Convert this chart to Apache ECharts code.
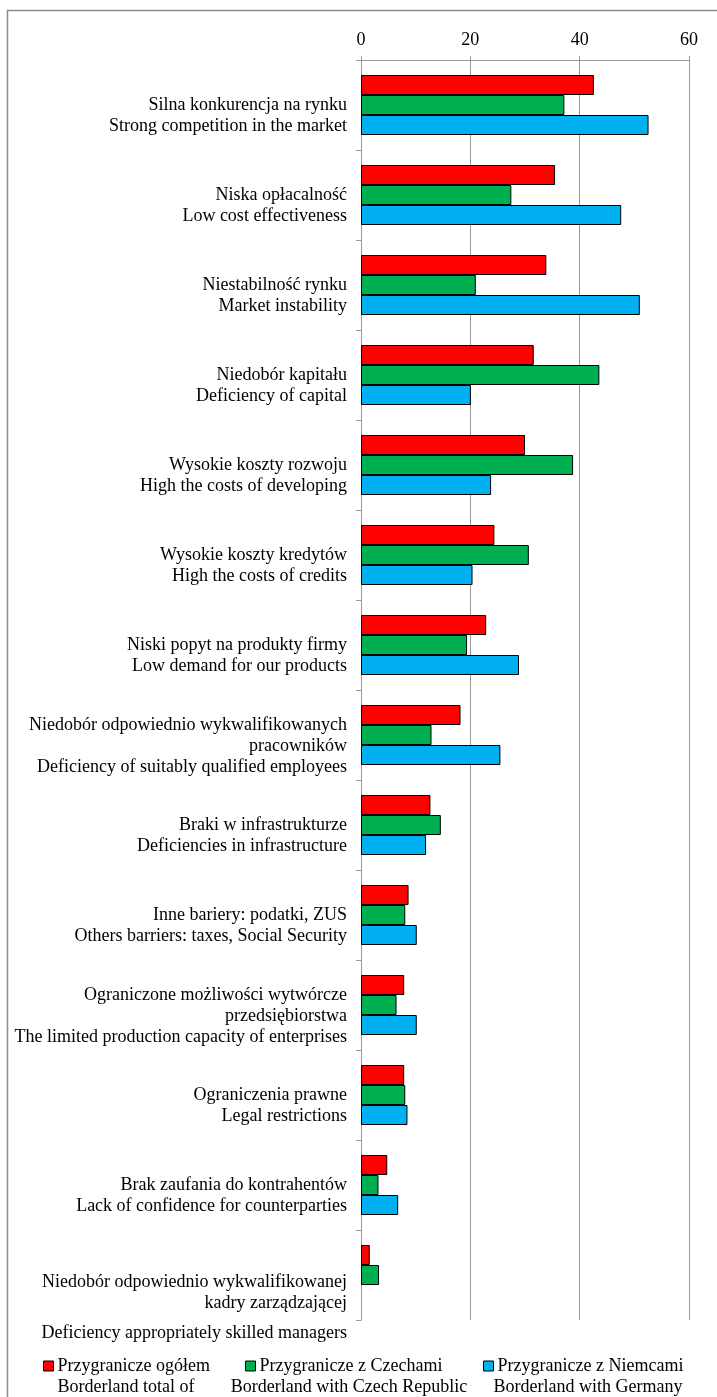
<!DOCTYPE html>
<html>
<head>
<meta charset="utf-8">
<script src="https://cdn.jsdelivr.net/npm/echarts@6/dist/echarts.min.js"></script>
<style>
  html, body { margin: 0; padding: 0; background: #fff; }
  #chart { width: 717px; height: 1397px; }
</style>
</head>
<body>
<div id="chart"></div>
<script>
// category labels (Polish / English)
const labelsPl = [
  'Silna konkurencja na rynku',
  'Niska opłacalność',
  'Niestabilność rynku',
  'Niedobór kapitału',
  'Wysokie koszty rozwoju',
  'Wysokie koszty kredytów',
  'Niski popyt na produkty firmy',
  'Niedobór odpowiednio wykwalifikowanych\npracowników',
  'Braki w infrastrukturze',
  'Inne bariery: podatki, ZUS',
  'Ograniczone możliwości wytwórcze\nprzedsiębiorstwa',
  'Ograniczenia prawne',
  'Brak zaufania do kontrahentów',
  'Niedobór odpowiednio wykwalifikowanej\nkadry zarządzającej'
];
const labelsEn = [
  'Strong competition in the market',
  'Low cost effectiveness',
  'Market instability',
  'Deficiency of capital',
  'High the costs of developing',
  'High the costs of credits',
  'Low demand for our products',
  'Deficiency of suitably qualified employees',
  'Deficiencies in infrastructure',
  'Others barriers: taxes, Social Security',
  'The limited production capacity of enterprises',
  'Legal restrictions',
  'Lack of confidence for counterparties',
  'Deficiency appropriately skilled managers'
];

// values (%)
const totalBorder = [42.6, 35.5, 33.9, 31.6, 30.0, 24.4, 22.9, 18.2, 12.7, 8.7, 7.9, 7.9, 4.8, 1.6];
const czechBorder = [37.2, 27.5, 21.0, 43.6, 38.8, 30.7, 19.4, 12.9, 14.6, 8.1, 6.5, 8.1, 3.2, 3.3];
const germanBorder = [52.6, 47.6, 51.0, 20.1, 23.8, 20.4, 28.9, 25.5, 11.9, 10.2, 10.2, 8.5, 6.8, 0];

const seriesPl = ['Przygranicze ogółem', 'Przygranicze z Czechami', 'Przygranicze z Niemcami'];
const seriesEn = ['Borderland total of', 'Borderland with Czech Republic', 'Borderland with Germany'];
const colors = ['#FF0000', '#00B050', '#00B0F0'];

const xTicks = [0, 20, 40, 60];

const FONT = '"Liberation Serif", "Times New Roman", serif';
const FS = 18;
const GRAY = '#999999';

const myChart = echarts.init(document.getElementById('chart'));

const categories = labelsPl.map((pl, i) => pl + '\n' + labelsEn[i]);

// legend positions (one legend per series so they line up like the original)
const legendLeft = [43, 245, 483];
const legendCenter = [126, 349, 588];

const option = {
  backgroundColor: '#fff',
  animation: false,
  color: colors,
  textStyle: { fontFamily: FONT },
  grid: { left: 361, right: 28, top: 60, bottom: 77, containLabel: false },
  xAxis: {
    type: 'value',
    position: 'top',
    min: xTicks[0],
    max: xTicks[xTicks.length - 1],
    interval: 20,
    axisLine: { show: true, lineStyle: { color: GRAY, width: 1 } },
    axisTick: { show: true, length: 4, lineStyle: { color: GRAY } },
    axisLabel: { color: '#000', fontSize: FS, fontFamily: FONT, margin: 11 },
    splitLine: { show: true, lineStyle: { color: GRAY, width: 1 } }
  },
  yAxis: {
    type: 'category',
    inverse: true,
    data: categories,
    axisLine: { show: true, lineStyle: { color: GRAY, width: 1 } },
    axisTick: { show: true, length: 5, lineStyle: { color: GRAY } },
    axisLabel: {
      color: '#000',
      fontSize: FS,
      fontFamily: FONT,
      lineHeight: 21,
      margin: 14,
      padding: [22, 0, 0, 0],
      interval: 0,
      formatter: (value, idx) => {
        if (idx === 13) {
          const p = labelsPl[13].split('\n');
          return '{s1| }\n{t|' + p[0] + '}\n{t|' + p[1] + '}\n{s2| }\n{t|' + labelsEn[13] + '}';
        }
        return value;
      },
      rich: {
        t: { fontSize: FS, fontFamily: FONT, lineHeight: 21, color: '#000' },
        s1: { fontSize: 8, lineHeight: 43 },
        s2: { fontSize: 8, lineHeight: 9 }
      }
    }
  },
  legend: seriesPl.map((name, i) => ({
    data: [name],
    left: legendLeft[i],
    top: 1357,
    itemWidth: 10,
    itemHeight: 10,
    padding: 0,
    icon: 'rect',
    itemStyle: { borderColor: '#000', borderWidth: 1 },
    textStyle: { fontSize: FS, fontFamily: FONT, color: '#000', padding: [0, 0, 0, -1] }
  })),
  graphic: [
    {
      type: 'polyline',
      silent: true,
      shape: { points: [[7.5, 1397], [7.5, 10.5], [717, 10.5]] },
      style: { stroke: '#8c8c8c', lineWidth: 1.5, fill: null }
    }
  ].concat(seriesEn.map((txt, i) => ({
    type: 'text',
    silent: true,
    x: legendCenter[i],
    y: 1387,
    style: {
      text: txt,
      font: FS + 'px ' + FONT,
      fill: '#000',
      align: 'center',
      verticalAlign: 'middle'
    }
  }))),
  series: [totalBorder, czechBorder, germanBorder].map((vals, i) => ({
    name: seriesPl[i],
    type: 'bar',
    // a zero value has no visible bar in the original
    data: vals.map((v) => (v === 0 ? { value: v, itemStyle: { borderWidth: 0 } } : v)),
    barWidth: 20,
    barGap: '0%',
    itemStyle: { color: colors[i], borderColor: '#000', borderWidth: 1 }
  }))
};

myChart.setOption(option);

window.addEventListener('resize', () => {
  myChart.resize();
});
</script>
</body>
</html>
